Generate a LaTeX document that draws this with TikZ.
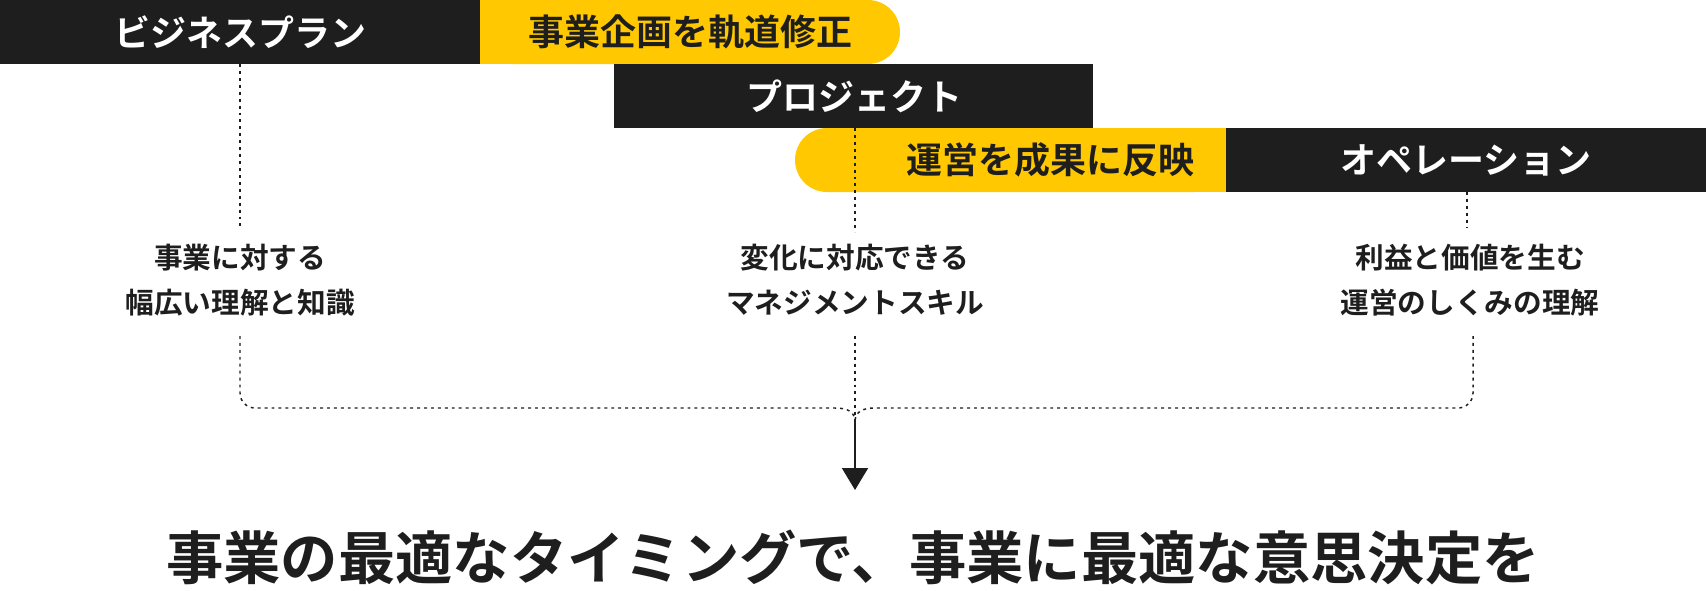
\documentclass[tikz,border=0pt]{standalone}
\usepackage{fontspec}
\setmainfont{Noto Sans CJK JP Bold}
\usetikzlibrary{arrows.meta}
\definecolor{bk}{HTML}{1E1E1E}
\definecolor{yl}{HTML}{FFC800}
\begin{document}
\begin{tikzpicture}[x=0.75pt,y=-0.75pt,
  bartext/.style={font=\fontsize{27}{27}\selectfont},
  lbl/.style={font=\fontsize{21.5}{34}\selectfont,align=center,text=bk},
  dots/.style={bk,line width=1.1pt,dash pattern=on 2.2pt off 3pt}]
\useasboundingbox (0,0) rectangle (1706,590);
\fill[bk] (0,0) rectangle (480,64);
\fill[yl,rounded corners=24pt] (480,0) rectangle (900,64);
\fill[yl] (480,0) rectangle (850,64);
\fill[bk] (614,64) rectangle (1093,128);
\fill[yl,rounded corners=24pt] (795,128) rectangle (1226,192);
\fill[yl] (850,128) rectangle (1226,192);
\fill[bk] (1226,128) rectangle (1706,192);
\node[bartext,text=white] (b1) at (240,32) {ビジネスプラン};
\node[bartext,text=bk] (y1) at (690,32) {事業企画を軌道修正};
\node[bartext,text=white] (b2) at (854,96) {プロジェクト};
\node[bartext,text=bk] (y2) at (1050,160) {運営を成果に反映};
\node[bartext,text=white] (b3) at (1466,160) {オペレーション};
\node[lbl] (l1) at (240,280) {事業に対する\\幅広い理解と知識};
\node[lbl] (l2) at (855,280) {変化に対応できる\\マネジメントスキル};
\node[lbl] (l3) at (1470,280) {利益と価値を生む\\運営のしくみの理解};
\coordinate (m) at (855,422);
\draw[dots] (240,64) -- (240,228);
\draw[dots] (855,128) -- (855,232);
\draw[dots] (1467,192) -- (1467,228);
\draw[dots] (240,336) -- (240,393) arc[start angle=180,end angle=90,radius=15] -- (835,408) .. controls (848,408) and (855,412) .. (m);
\draw[dots] (1473,336) -- (1473,393) arc[start angle=0,end angle=90,radius=15] -- (875,408) .. controls (862,408) and (855,412) .. (m);
\draw[dots] (855,336) -- (m);
\draw[bk,line width=1.5pt,-{Triangle[length=22pt*0.75,width=26pt*0.75]}] (m) -- (855,490);
\node[font=\fontsize{43}{43}\selectfont,text=bk] (t) at (853,557) {事業の最適なタイミングで、事業に最適な意思決定を};
\end{tikzpicture}
\end{document}
